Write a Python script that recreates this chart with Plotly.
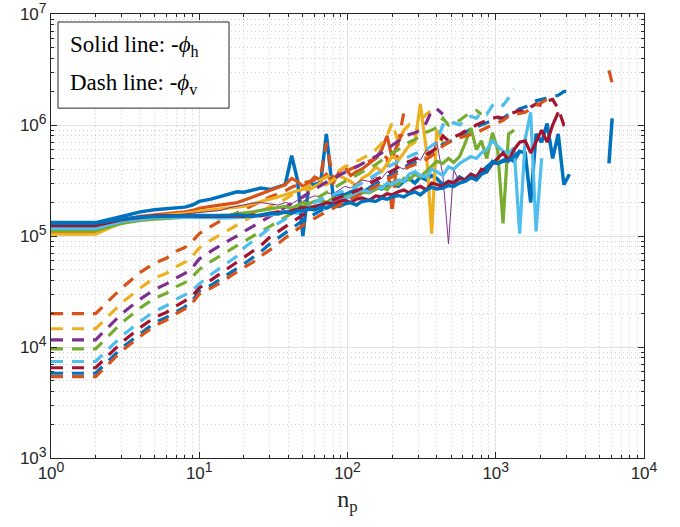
import plotly.graph_objects as go

# shared n_p sample grid
n_p = [1, 2, 3, 4, 5, 6, 7, 8, 9, 10,
       12, 14, 16, 18, 20, 23, 26, 30, 34, 38,
       42, 46, 50, 55, 60, 66, 72, 80, 88, 96,
       105, 115, 125, 140, 155, 170, 185, 200, 220, 240,
       260, 285, 310, 340, 370, 400, 440, 480, 520, 570,
       620, 680, 740, 800, 870, 950, 1030, 1120, 1220, 1330,
       1450, 1580, 1720, 1870, 2040, 2220, 2420, 2640, 2880, 3140]
n_p_tail = [5800, 6100]

# values in thousands
# ---- dashed lines: -phi_v ----
v_orange1 = [20, 20, 34, 47, 57, 63, 73, 79, 90, 105,
             122, 138, 150, 162, 175, 192, 205, 225, 240, 255,
             275, 290, 300, 310, 320, 350, 690, 330, 360, 380,
             400, 420, 440, 470, 500, 560, 500, 160, 700, 1300,
             1150]
v_yellow = [14.6, 14.6, 25, 34, 42, 46, 53, 58, 66, 78,
            92, 104, 115, 125, 136, 152, 165, 185, 200, 215,
            235, 250, 265, 280, 300, 320, 340, 360, 390, 420,
            440, 470, 500, 540, 600, 680, 800, 1050, 700, 900,
            1000, 800, 1100, 1250, 1350, 1500]
v_purple = [11.6, 11.6, 20, 27, 33, 37, 42, 46, 52, 62,
            73, 83, 92, 100, 110, 122, 134, 150, 165, 180,
            195, 210, 225, 245, 265, 285, 305, 330, 355, 375,
            400, 420, 445, 480, 520, 560, 610, 660, 720, 780,
            820, 850, 900, 1050, 1350, 1400, 1250]
v_green = [9.6, 9.6, 16.5, 22.5, 27.5, 30.5, 35, 38, 43, 50,
           59, 67, 75, 82, 90, 100, 110, 122, 135, 148,
           160, 172, 185, 200, 215, 232, 250, 270, 290, 310,
           330, 355, 380, 410, 440, 480, 520, 560, 600, 650,
           700, 740, 800, 860, 900, 950, 1150, 1000, 1050, 1100,
           1200, 1300, 1350, 1250]
v_lightblue = [7.4, 7.4, 12.5, 17, 21, 23.5, 27, 29.5, 32.5, 37,
               45, 52, 59, 66, 78, 90, 103, 118, 130, 142,
               155, 167, 178, 190, 200, 212, 225, 235, 245, 255,
               265, 280, 300, 330, 360, 390, 420, 440, 470, 500,
               520, 550, 570, 600, 650, 700, 1000, 950, 1050, 1000,
               1100, 1200, 1150, 1300, 1250, 1500, 1600, 1500, 1750, 2100]
v_darkred = [6.5, 6.5, 11, 15, 18.5, 20.5, 23.5, 26, 29, 34,
             40, 46, 52, 58, 64, 73, 82, 98, 110, 122,
             133, 145, 155, 165, 175, 188, 200, 212, 222, 232,
             240, 255, 270, 295, 320, 345, 370, 390, 420, 445,
             470, 490, 510, 540, 580, 620, 800, 720, 780, 820,
             880, 950, 1000, 1050, 1100, 1150, 1180, 1150, 1250, 1300,
             1350, 1300, 1450, 1550, 1500, 1650, 1700, 1400, 1000, 950]
v_blue = [5.8, 5.8, 9.8, 13.3, 16.5, 18.5, 21, 23, 26, 32,
          36, 41, 46, 51, 56, 64, 72, 85, 96, 107,
          118, 128, 138, 148, 158, 170, 180, 192, 202, 212,
          222, 235, 250, 272, 295, 318, 340, 360, 390, 415,
          440, 460, 480, 510, 550, 590, 680, 700, 740, 790,
          850, 920, 960, 1000, 1050, 1100, 1150, 1150, 1250, 1300,
          1400, 1450, 1550, 1650, 1700, 1750, 1800, 1850, 2000, 2050]
v_orange2 = [5.4, 5.4, 9.2, 12.5, 15.5, 17.5, 20, 22, 25, 30,
             34, 38, 43, 48, 52, 58, 66, 75, 86, 96,
             106, 116, 125, 135, 145, 156, 166, 178, 190, 200,
             212, 225, 238, 258, 280, 300, 322, 345, 372, 398,
             420, 440, 460, 490, 530, 570, 650, 700, 740, 770,
             800, 820, 850, 900, 950, 1000, 1050, 1100, 1200, 1250,
             1270, 1300, 1400, 1500, 1600, 1700, 1900]
v_orange2_tail = [3100, 2400]

# ---- solid lines: -phi_h ----
h_blueA = [132, 132, 150, 165, 172, 176, 178, 182, 190, 205,
           215, 228, 240, 250, 248, 262, 270, 262, 275, 290,
           530, 320, 100, 300, 290, 305, 830, 230, 240, 235,
           250, 260, 245, 270, 280, 265, 290, 300, 280, 310,
           330, 300, 340, 320, 350, 330, 290, 310, 300, 340,
           320, 360, 340, 380, 420, 460, 450, 480, 500, 470,
           580, 560, 200, 830, 700, 1030, 500, 830, 290, 360]
h_blueA_tail = [450, 1150]
h_blueB = [130, 130, 142, 148, 150, 150, 151, 152, 152, 153,
           152, 150, 152, 155, 153, 150, 155, 160, 158, 165,
           160, 170, 168, 175, 172, 182, 178, 190, 185, 195,
           200, 190, 205, 210, 205, 220, 215, 225, 232, 225,
           240, 250, 235, 260, 275, 265, 270, 285, 280, 300,
           310, 335, 320, 360, 380, 470, 450, 470, 480, 520,
           580]
h_darkred = [124, 124, 140, 148, 152, 153, 153, 152, 152, 150,
             150, 148, 150, 152, 150, 155, 152, 160, 165, 162,
             170, 175, 180, 178, 185, 190, 200, 195, 205, 210,
             200, 215, 220, 210, 230, 225, 240, 235, 250, 260,
             245, 270, 280, 260, 300, 290, 280, 310, 300, 330,
             320, 360, 340, 400, 380, 450, 500, 560, 480, 600,
             700, 720, 560, 720, 900, 700, 1000, 1300]
h_lightblue = [117, 117, 135, 142, 146, 148, 148, 148, 147, 147,
               146, 145, 145, 146, 148, 150, 152, 155, 160, 165,
               170, 160, 175, 185, 180, 195, 190, 210, 220, 215,
               230, 240, 260, 250, 280, 270, 300, 290, 320, 310,
               360, 380, 350, 340, 400, 380, 350, 420, 400, 450,
               480, 520, 500, 560, 600, 720, 650, 580, 560, 620,
               105, 750, 1300, 110, 500]
h_green = [112, 112, 130, 138, 142, 144, 145, 146, 147, 148,
           150, 152, 155, 158, 160, 165, 170, 175, 180, 185,
           178, 190, 200, 195, 205, 210, 200, 220, 215, 225,
           235, 230, 250, 245, 265, 280, 260, 300, 290, 330,
           320, 360, 340, 380, 420, 470, 450, 500, 460, 520,
           680, 940, 600, 720, 500, 850, 600, 130, 830, 900]
h_orange = [106, 106, 138, 150, 155, 158, 162, 165, 170, 178,
            185, 190, 195, 200, 210, 225, 240, 255, 275, 290,
            330, 310, 280, 300, 340, 320, 360, 300, 380, 420,
            350, 380, 400, 450, 500, 600, 800, 500, 700, 900]
h_yellow = [104, 104, 132, 145, 150, 153, 156, 160, 163, 168,
            172, 175, 178, 182, 185, 195, 205, 215, 225, 235,
            245, 255, 265, 260, 280, 300, 290, 320, 350, 330,
            310, 280, 330, 360, 420, 380, 450, 520, 480, 560,
            650, 700, 1550, 600, 105, 900, 700]
h_purple = [110, 110, 132, 142, 148, 152, 155, 158, 160, 163,
            166, 170, 180, 185, 190, 198, 200, 195, 190, 200,
            195, 210, 205, 220, 230, 225, 245, 240, 260, 280,
            270, 300, 320, 310, 340, 330, 380, 360, 420, 400,
            450, 520, 480, 600, 560, 700, 350, 85, 400, 300]

x_ticks = [1, 10, 100, 1000, 10000]
x_exp = ["0", "1", "2", "3", "4"]
y_ticks = [1e3, 1e4, 1e5, 1e6, 1e7]
y_exp = ["3", "4", "5", "6", "7"]
legend_lines = ["Solid line: -<i>ϕ</i><sub>h</sub>", "Dash line: -<i>ϕ</i><sub>v</sub>"]


def power_labels(exps):
    return ["10<sup><span style='font-size:14px'>%s</span></sup>" % e for e in exps]


C_BLUE = "#0072BD"
C_ORANGE = "#D95319"
C_YELLOW = "#EDB120"
C_PURPLE = "#7E2F8E"
C_GREEN = "#77AC30"
C_LBLUE = "#4DBEEE"
C_DRED = "#A2142F"
DASH = "12px,9px"
W = 3.2

fig = go.Figure()


def add(x, vals, color, width, dash="solid"):
    fig.add_trace(go.Scatter(
        x=x[:len(vals)], y=[v * 1000 for v in vals], mode="lines",
        line=dict(color=color, width=width, dash=dash),
        showlegend=False, hoverinfo="skip"))


add(n_p, h_blueA, C_BLUE, W + 0.3)
add(n_p, v_blue, C_BLUE, W, DASH)
add(n_p_tail, h_blueA_tail, C_BLUE, W + 0.3)
add(n_p, h_orange, C_ORANGE, W)
add(n_p, v_orange1, C_ORANGE, W, DASH)
add(n_p, h_yellow, C_YELLOW, W)
add(n_p, v_yellow, C_YELLOW, W, DASH)
add(n_p, h_purple, C_PURPLE, 1)
add(n_p, v_purple, C_PURPLE, W, DASH)
add(n_p, h_green, C_GREEN, W)
add(n_p, v_green, C_GREEN, W, DASH)
add(n_p, h_lightblue, C_LBLUE, W)
add(n_p, v_lightblue, C_LBLUE, W, DASH)
add(n_p, h_darkred, C_DRED, W)
add(n_p, v_darkred, C_DRED, W, DASH)
add(n_p, h_blueB, C_BLUE, W + 0.3)
add(n_p, v_orange2, C_ORANGE, W, DASH)
add(n_p_tail, v_orange2_tail, C_ORANGE, W, DASH)

minor_x = [m * 10 ** k for k in range(0, 4) for m in range(2, 10)]
minor_y = [m * 10 ** k for k in range(3, 7) for m in range(2, 10)]

axis_common = dict(
    type="log", showline=True, linecolor="#262626", linewidth=1, mirror="ticks",
    ticks="inside", ticklen=6, tickcolor="#262626", tickwidth=1,
    showgrid=True, gridcolor="#e3e3e3", gridwidth=1, zeroline=False,
    tickfont=dict(family="Liberation Sans, Arial, sans-serif", size=17, color="#262626"),
    tickmode="array", automargin=False, ticklabeloverflow="allow",
)
minor_common = dict(tickmode="array", ticks="inside", ticklen=3, tickcolor="#262626",
                    showgrid=True, gridcolor="#d0d0d0", griddash="1px,3px", gridwidth=1)

fig.update_xaxes(
    **axis_common, range=[0, 4], tickvals=x_ticks, ticktext=power_labels(x_exp),
    minor=dict(**minor_common, tickvals=minor_x),
    title=dict(text="n<sub>p</sub>", font=dict(family="Liberation Serif, serif", size=24, color="#262626"),
               standoff=7),
)
fig.update_yaxes(
    **axis_common, range=[3, 7], tickvals=y_ticks, ticktext=power_labels(y_exp),
    minor=dict(**minor_common, tickvals=minor_y),
)

# legend-like text box
fig.add_shape(type="rect", xref="paper", yref="paper", x0=0.0118, x1=0.3002, y0=0.788, y1=0.982,
              line=dict(color="#262626", width=1), fillcolor="white", layer="above")
for txt, yy in zip(legend_lines, [0.928, 0.843]):
    fig.add_annotation(
        xref="paper", yref="paper", x=0.0287, y=yy, xanchor="left", yanchor="middle",
        text=txt, showarrow=False, align="left",
        font=dict(family="Liberation Serif, serif", size=23, color="#000000"),
    )

fig.update_layout(
    width=680, height=527,
    margin=dict(l=51, r=36, t=14, b=69),
    paper_bgcolor="white", plot_bgcolor="white",
)

fig.write_html("out.html", config={"displayModeBar": False},
               post_script="document.body.style.margin='0';")
